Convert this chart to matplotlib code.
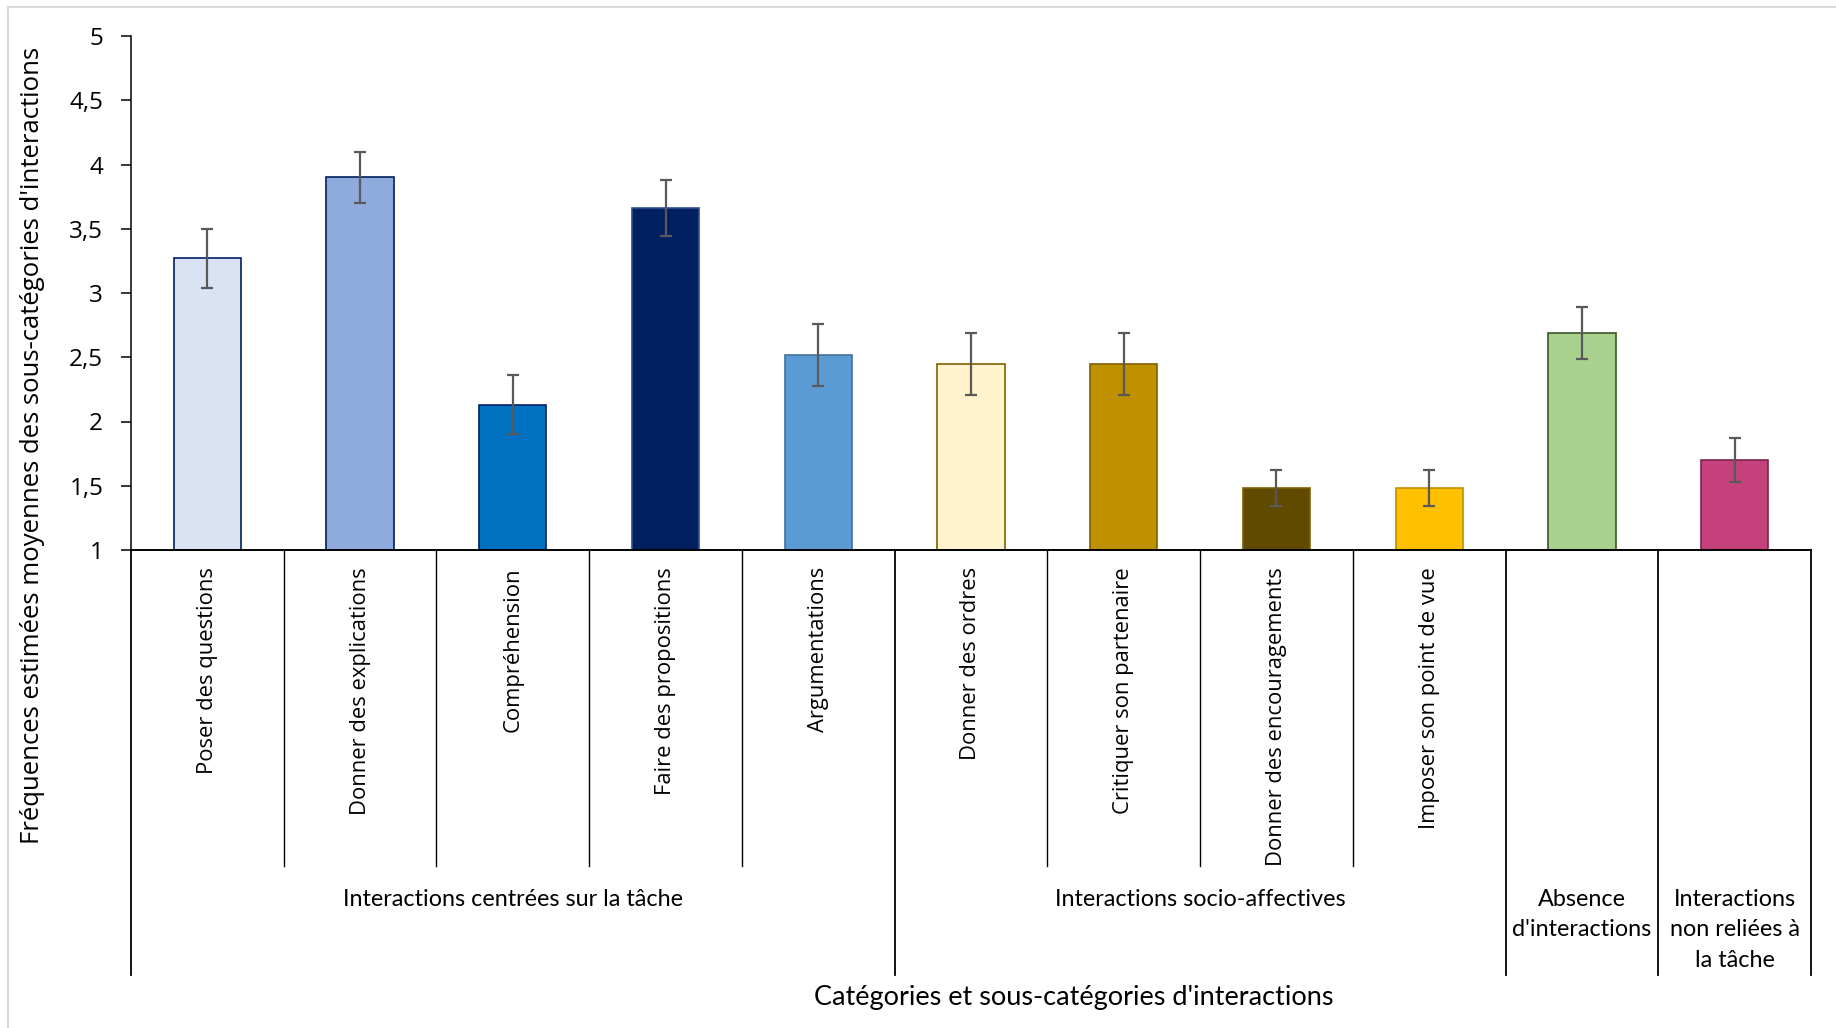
import matplotlib
matplotlib.use("Agg")
import matplotlib.pyplot as plt
from matplotlib.lines import Line2D
import numpy as np

# ---- Données ----
sous_categories = [
    "Poser des questions", "Donner des explications", "Compréhension",
    "Faire des propositions", "Argumentations", "Donner des ordres",
    "Critiquer son partenaire", "Donner des encouragements",
    "Imposer son point de vue", "", "",
]
moyennes = [3.27, 3.90, 2.13, 3.66, 2.52, 2.45, 2.45, 1.48, 1.48, 2.69, 1.70]
erreurs  = [0.23, 0.20, 0.23, 0.22, 0.24, 0.24, 0.24, 0.14, 0.14, 0.20, 0.17]

categories = ["Interactions centrées sur la tâche", "Interactions socio-affectives",
              "Absence\nd'interactions", "Interactions\nnon reliées à\nla tâche"]
taille_categories = [5, 4, 1, 1]

couleurs = ["#DAE3F3", "#8FAADC", "#0070C0", "#002060", "#5B9BD5",
            "#FFF2CC", "#BF9000", "#604A00", "#FFC000", "#A9D18E", "#C5417B"]
bordures = ["#002060", "#002060", "#002060", "#2F4F8F", "#41719C",
            "#7F6000", "#7F6000", "#7F6000", "#BF9000", "#385723", "#7A2450"]

yticks = [1, 1.5, 2, 2.5, 3, 3.5, 4, 4.5, 5]
ytick_labels = ["1", "1,5", "2", "2,5", "3", "3,5", "4", "4,5", "5"]

# ---- Figure ----
W, H = 1836, 1028
Y5, Y1 = 36, 550   # pixels des graduations 5 et 1
fig = plt.figure(figsize=(W / 100, H / 100), dpi=100)
ax = fig.add_axes([131 / W, 1 - Y1 / H, 1680 / W, (Y1 - Y5) / H])

x = np.arange(len(moyennes))
ax.bar(x, np.array(moyennes) - 1, bottom=1, width=0.44, color=couleurs,
       edgecolor=bordures, linewidth=1.2, zorder=2)
ax.errorbar(x, moyennes, yerr=erreurs, fmt="none", ecolor="#595959",
            elinewidth=1.6, capsize=4.5, capthick=1.6, zorder=3)

ax.set_xlim(-0.5, len(moyennes) - 0.5)
ax.set_ylim(1, 5)
ax.set_yticks(yticks)
ax.set_yticklabels(ytick_labels, fontsize=17.5, family="Open Sans")
ax.set_xticks([])
ax.tick_params(axis="y", direction="out", length=7, width=1.1, pad=13)
for s in ["top", "right"]:
    ax.spines[s].set_visible(False)
ax.spines["left"].set_linewidth(1.1)
ax.spines["bottom"].set_linewidth(1.4)

# ---- Axe des catégories (multi-niveaux) ----
trans = ax.get_xaxis_transform()
def frac(py):
    return (Y1 - py) / (Y1 - Y5)

y_sub = frac(866)
y_grp = frac(975)

# séparateurs des catégories
bornes = np.concatenate([[0], np.cumsum(taille_categories)]) - 0.5
for b in bornes:
    ax.add_line(Line2D([b, b], [0, y_grp], transform=trans, color="black",
                       lw=1.3, clip_on=False))
# séparateurs des sous-catégories
for i in range(len(moyennes) - 1):
    b = i + 0.5
    if b in bornes:
        continue
    ax.add_line(Line2D([b, b], [0, y_sub], transform=trans, color="black",
                       lw=1.0, clip_on=False))

# étiquettes des sous-catégories
for xi, lab in zip(x, sous_categories):
    if lab:
        ax.text(xi, frac(567), lab, transform=trans, rotation=90, ha="center",
                va="top", fontsize=15.8, family="Open Sans")

# étiquettes des catégories
for i, lab in enumerate(categories):
    centre = (bornes[i] + bornes[i + 1]) / 2
    ax.text(centre, frac(889), lab, transform=trans, ha="center", va="top",
            fontsize=16.8, family="Lato", linespacing=1.55)

# ---- Titres des axes ----
fig.text(1074 / W, 1 - 998 / H, "Catégories et sous-catégories d'interactions",
         ha="center", va="center", fontsize=19.5, family="Lato")
fig.text(33 / W, 1 - 445 / H,
         "Fréquences estimées moyennes des sous-catégories d'interactions",
         rotation=90, ha="center", va="center", fontsize=18.5, family="Open Sans")

# ---- Bordure du graphique ----
fig.add_artist(Line2D([8 / W, 1.0], [1 - 7 / H, 1 - 7 / H], color="#D9D9D9", lw=1.5))
fig.add_artist(Line2D([8 / W, 8 / W], [0.0, 1 - 7 / H], color="#D9D9D9", lw=1.5))

fig.savefig("out.png", dpi=100)
